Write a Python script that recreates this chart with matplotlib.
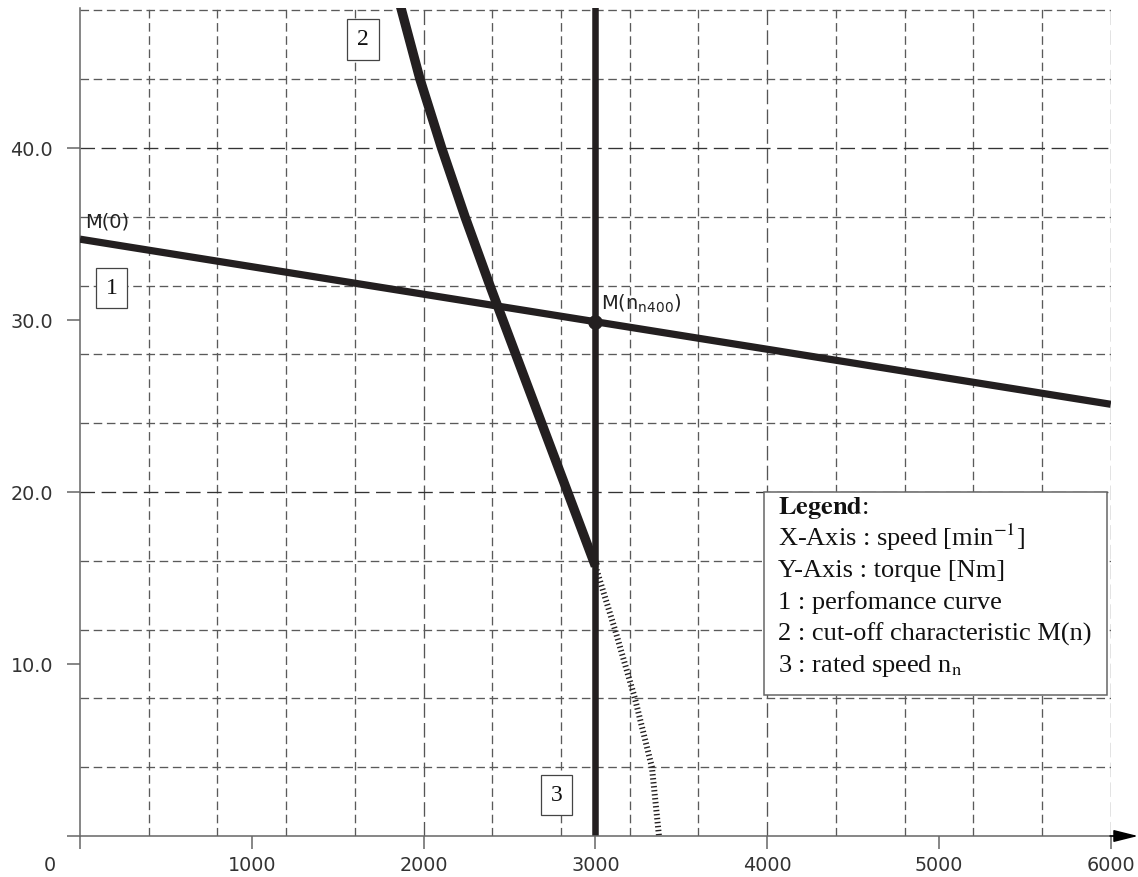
import matplotlib
matplotlib.use("Agg")
import matplotlib.pyplot as plt
import matplotlib.transforms as mtransforms
from matplotlib.patches import Rectangle

# ---------------- data ----------------
perf_speed = [0, 6000]
perf_torque = [34.7, 25.1]

cutoff_speed = [1845, 1872, 1979, 2105, 2241, 2386, 2687, 3000]
cutoff_torque = [49.0, 48.0, 44.0, 40.0, 36.0, 32.0, 24.0, 15.7]

ext_speed = [3000, 3114, 3230, 3329, 3370]
ext_torque = [15.7, 12.0, 8.0, 4.0, 0.0]

rated_speed = 3000
rated_point_torque = 29.9

x_ticks = [0, 1000, 2000, 3000, 4000, 5000, 6000]
x_labels = ["0", "1000", "2000", "3000", "4000", "5000", "6000"]
y_ticks = [10, 20, 30, 40]
y_labels = ["10.0", "20.0", "30.0", "40.0"]

x_grid_minor = [400, 800, 1200, 1600, 2400, 2800, 3200, 3600, 4400, 4800, 5200, 5600]
x_grid_major = [2000, 4000, 6000]
y_grid_minor = [4, 8, 12, 16, 24, 28, 32, 36, 44, 48]
y_grid_major = [20, 40]

legend_lines = [
    r"$\mathbf{Legend}$:",
    r"X-Axis : speed [min$^{\mathrm{-1}}$]",
    "Y-Axis : torque [Nm]",
    "1 : perfomance curve",
    "2 : cut-off characteristic M(n)",
    r"3 : rated speed n$_{\mathrm{n}}$",
]

# ---------------- figure ----------------
W, H = 1138, 877
fig = plt.figure(figsize=(W / 100, H / 100), dpi=100)
ax = fig.add_axes([80 / W, 41 / H, 1030.8 / W, 828 / H])
ax.set_xlim(0, 6000)
ax.set_ylim(0, 48.14)

ink = "#231f20"
axis_gray = "#666666"

# grid
for gx in x_grid_minor:
    ax.axvline(gx, color="#5a5a5a", lw=0.95, ls=(0, (6.5, 3.5)), zorder=1)
for gx in x_grid_major:
    ax.axvline(gx, color="#555555", lw=0.95, ls=(0, (11, 4)), zorder=1)
for gy in y_grid_minor:
    ax.axhline(gy, color="#5a5a5a", lw=0.95, ls=(0, (6.5, 3.5)), zorder=1)
for gy in y_grid_major:
    ax.axhline(gy, color="#333333", lw=0.95, ls=(0, (11, 5)), zorder=1)

# curves
ax.plot(perf_speed, perf_torque, color=ink, lw=5.2, solid_capstyle="butt", zorder=4)
ax.plot(cutoff_speed, cutoff_torque, color=ink, lw=6.8, solid_joinstyle="round",
        solid_capstyle="butt", zorder=4)
ax.plot(ext_speed, ext_torque, color=ink, lw=4.3, ls=(0, (0.23, 0.44)), zorder=3)
ax.axvline(rated_speed, color=ink, lw=4.7, zorder=4)
ax.plot([rated_speed], [rated_point_torque], "o", color=ink, ms=9.5, zorder=5)

# spines / ticks
for s in ["top", "right", "bottom"]:
    ax.spines[s].set_visible(False)
ax.spines["left"].set_color(axis_gray)
ax.spines["left"].set_linewidth(1.1)

ax.set_xticks(x_ticks)
ax.set_xticklabels(x_labels)
ax.set_yticks(y_ticks)
ax.set_yticklabels(y_labels)
ax.tick_params(axis="both", direction="out", length=9.4, width=1.1, color=axis_gray,
               labelsize=13.8, labelcolor="#333333")
ax.tick_params(axis="x", pad=5)
ax.tick_params(axis="y", pad=10)
for lab in ax.get_xticklabels() + ax.get_yticklabels():
    lab.set_family("DejaVu Sans")

# shift "0" label to the left
off = mtransforms.ScaledTranslation(-30 / 100, 0, fig.dpi_scale_trans)
t0 = ax.xaxis.get_major_ticks()[0]
t0.label1.set_transform(t0.label1.get_transform() + off)

# x axis line with black arrow head
ax.plot([-13 / 1030.8, 1040 / 1030.8], [0, 0], transform=ax.transAxes, color=axis_gray,
        lw=1.1, clip_on=False, zorder=6, solid_capstyle="butt")
ax.annotate("", xy=(1058 / 1030.8, 0), xytext=(1030 / 1030.8, 0),
            xycoords="axes fraction", textcoords="axes fraction",
            arrowprops=dict(arrowstyle="-|>,head_length=1.0,head_width=0.25",
                            mutation_scale=15, color="black", lw=1.1,
                            shrinkA=0, shrinkB=0),
            annotation_clip=False, zorder=6)

# labels
ax.text(29, 35.4, "M(0)", fontsize=14, family="DejaVu Sans", color="#222222",
        va="baseline", ha="left", zorder=6)
ax.text(3033, 30.58, r"M(n$_{\mathrm{n400}}$)", fontsize=14, family="DejaVu Sans",
        color="#222222", va="baseline", ha="left", zorder=6)

box_kw = dict(boxstyle="square,pad=0.42", fc="white", ec="#444444", lw=0.9)
for txt, bx, by in [("1", 183, 31.86), ("2", 1647, 46.3), ("3", 2774, 2.38)]:
    ax.text(bx, by, txt, fontsize=17, family="Liberation Serif", color="#111111",
            ha="center", va="center", bbox=box_kw, zorder=6)

# legend box
ax.add_patch(Rectangle((684 / 1030.8, 141 / 828), 343 / 1030.8, 203 / 828,
                       transform=ax.transAxes, fc="white", ec="#666666", lw=1.1,
                       zorder=7, clip_on=False))
y0 = (836 - 514) / 828
dy = 31.6 / 828
for i, line in enumerate(legend_lines):
    ax.text(698 / 1030.8, y0 - i * dy, line, transform=ax.transAxes,
            fontsize=19, family="Liberation Serif", math_fontfamily="stix",
            color="#111111", ha="left", va="baseline", zorder=8)

fig.savefig("out.png", dpi=100)
